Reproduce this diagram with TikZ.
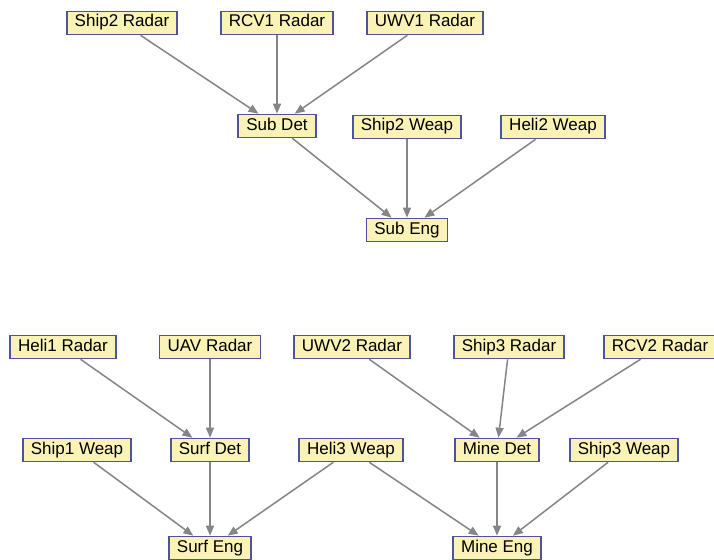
\documentclass[tikz,border=0pt]{standalone}
\usepackage{fontspec}
\setmainfont{Liberation Sans}
\usetikzlibrary{positioning,arrows.meta}

\definecolor{boxfill}{HTML}{FAF3B5}
\definecolor{boxline}{HTML}{4F529C}
\definecolor{edgegray}{HTML}{858585}

\begin{document}
\begin{tikzpicture}[x=1pt,y=1pt,node distance=103pt]

\tikzstyle{unit} = [rectangle, draw=boxline, line width=1.6pt, fill=boxfill, font=\fontsize{17}{20}\selectfont, inner xsep=8pt, inner ysep=3.5pt, text height=12pt, text depth=4pt]
\tikzstyle{arrow} = [draw=edgegray, line width=1.5pt, -{Triangle[length=10pt,width=8pt]}]

\useasboundingbox (0,0) rectangle (714,-559);

% Sub group
\node (ship2radar) [unit] at (122,-23) {Ship2 Radar};
\node (rcv1radar) [unit] at (277,-23) {RCV1 Radar};
\node (uwv1radar) [unit] at (425,-23) {UWV1 Radar};
\node (subdet) [unit, below of=rcv1radar] {Sub Det};
\node (ship2weap) [unit] at (407,-127) {Ship2 Weap};
\node (heli2weap) [unit] at (553,-127) {Heli2 Weap};
\node (subeng) [unit, below of=ship2weap] {Sub Eng};

% Paths for sub group
\draw [arrow] (ship2radar) -- (subdet);
\draw [arrow] (rcv1radar) -- (subdet);
\draw [arrow] (uwv1radar) -- (subdet);
\draw [arrow] (subdet) -- (subeng);
\draw [arrow] (ship2weap) -- (subeng);
\draw [arrow] (heli2weap) -- (subeng);

% Surf and mine group
\node (heli1radar) [unit] at (63,-347) {Heli1 Radar};
\node (uavradar) [unit] at (210,-347) {UAV Radar};
\node (uwv2radar) [unit] at (352,-347) {UWV2 Radar};
\node (ship3radar) [unit] at (509,-347) {Ship3 Radar};
\node (rcv2radar) [unit] at (660,-347) {RCV2 Radar};
\node (ship1weap) [unit] at (77,-450) {Ship1 Weap};
\node (surfdet) [unit, below of=uavradar] {Surf Det};
\node (heli3weap) [unit] at (351,-450) {Heli3 Weap};
\node (minedet) [unit] at (497,-450) {Mine Det};
\node (ship3weap) [unit] at (624,-450) {Ship3 Weap};
\node (surfeng) [unit, below of=surfdet, yshift=5pt] {Surf Eng};
\node (mineeng) [unit, below of=minedet, yshift=5pt] {Mine Eng};

% Paths for surf and mine group
\draw [arrow] (heli1radar) -- (surfdet);
\draw [arrow] (uavradar) -- (surfdet);
\draw [arrow] (uwv2radar) -- (minedet);
\draw [arrow] (ship3radar) -- (minedet);
\draw [arrow] (rcv2radar) -- (minedet);
\draw [arrow] (ship1weap) -- (surfeng);
\draw [arrow] (surfdet) -- (surfeng);
\draw [arrow] (heli3weap) -- (surfeng);
\draw [arrow] (heli3weap) -- (mineeng);
\draw [arrow] (minedet) -- (mineeng);
\draw [arrow] (ship3weap) -- (mineeng);

\end{tikzpicture}
\end{document}
